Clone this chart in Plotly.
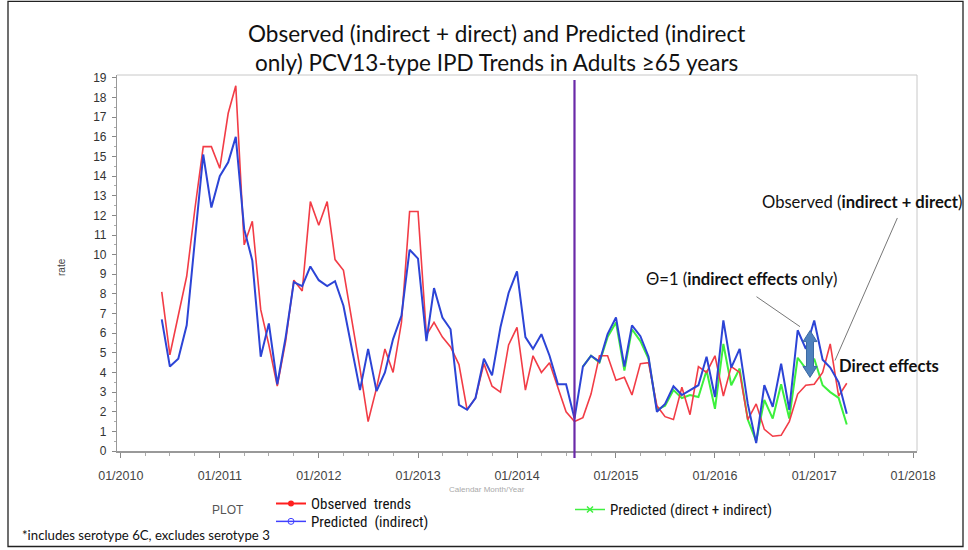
import pandas as pd
import plotly.graph_objects as go

# ---------------- data ----------------
months = pd.date_range("2010-06-01", periods=84, freq="MS")  # Jun 2010 .. May 2017

observed = [8.1, 4.9, 6.9, 8.9, 12.3, 15.5, 15.5, 14.4, 17.2, 18.6,
            10.5, 11.7, 7.2, 5.4, 3.3, 5.6, 8.7, 8.15, 12.7, 11.5,
            12.7, 9.75, 9.2, 6.8, 4.2, 1.5, 3.2, 5.2, 4.0, 6.55,
            12.2, 12.2, 5.9, 6.55, 5.8, 5.3, 4.4, 2.1, 2.7, 4.45,
            3.3, 3.0, 5.4, 6.3, 3.1, 4.85, 4.0, 4.5, 3.2, 2.0,
            1.5, 1.7, 2.9, 4.85, 4.85, 3.6, 3.75, 2.85, 4.45, 4.5,
            2.3, 1.75, 1.6, 3.25, 1.85, 4.3, 4.0, 4.85, 2.8, 4.3,
            4.0, 1.6, 2.4, 1.1, 0.75, 0.8, 1.5, 2.9, 3.35, 3.4,
            4.0, 5.45, 2.8, 3.45]

pred_indirect = [6.7, 4.3, 4.7, 6.4, 10.7, 15.1, 12.4, 14.0, 14.7, 16.0,
                 11.3, 9.7, 4.8, 6.5, 3.4, 5.8, 8.6, 8.4, 9.4, 8.7,
                 8.4, 8.65, 7.4, 5.2, 3.1, 5.2, 3.05, 4.0, 5.7, 6.9,
                 10.25, 9.8, 5.6, 8.3, 6.8, 6.2, 2.35, 2.1, 2.7, 4.7,
                 3.85, 6.3, 8.05, 9.15, 5.8, 5.2, 5.95, 4.85, 3.4, 3.4,
                 1.65, 4.3, 4.85, 4.55, 5.95, 6.8, 4.3, 6.4, 5.85, 4.8,
                 2.0, 2.4, 3.3, 2.85, 3.1, 3.35, 4.8, 2.75, 6.65, 4.25,
                 5.2, 2.4, 0.4, 3.35, 2.25, 4.45, 2.1, 6.15, 5.2, 6.65,
                 4.65, 4.25, 3.5, 1.9]

green_months = pd.date_range("2014-09-01", periods=33, freq="MS")  # Sep 2014 .. May 2017
pred_direct_indirect = [4.3, 4.85, 4.5, 5.8, 6.55, 4.1, 6.2, 5.6, 4.7, 2.1,
                        2.3, 3.1, 2.7, 2.85, 2.75, 4.1, 2.15, 5.45, 3.35, 4.2,
                        1.6, 0.5, 2.6, 1.65, 3.4, 1.65, 4.75, 4.2, 4.7, 3.35,
                        3.0, 2.7, 1.35]

vaccine_date = "2014-08-01"
y_ticks = list(range(0, 20))

# ---------------- figure ----------------
W, H = 968, 550
L, R, T, B = 117, 51, 75, 97
PW, PH = W - L - R, H - T - B


def px(x):
    return (x - L) / PW


def py(y):
    return (H - B - y) / PH


RED = "#f23c46"
BLUE = "#2c44d6"
GREEN = "#3df03d"

fig = go.Figure()
fig.add_trace(go.Scatter(x=green_months, y=pred_direct_indirect, mode="lines",
                         line=dict(color=GREEN, width=2), showlegend=False))
fig.add_trace(go.Scatter(x=months, y=observed, mode="lines",
                         line=dict(color=RED, width=1.6), showlegend=False))
fig.add_trace(go.Scatter(x=months, y=pred_indirect, mode="lines",
                         line=dict(color=BLUE, width=2), showlegend=False))

# legend-only traces
fig.add_trace(go.Scatter(x=[None], y=[None], mode="lines+markers", name="Observed\u00a0\u00a0trends",
                         line=dict(color="#ff2020", width=2),
                         marker=dict(color="#ff2020", size=6, symbol="circle"), legend="legend"))
fig.add_trace(go.Scatter(x=[None], y=[None], mode="lines+markers", name="Predicted\u00a0\u00a0(indirect)",
                         line=dict(color="#4040ff", width=1.5),
                         marker=dict(color="#4040ff", size=6, symbol="circle-open"), legend="legend2"))
fig.add_trace(go.Scatter(x=[None], y=[None], mode="lines+markers", name="Predicted (direct + indirect)",
                         line=dict(color="#40f040", width=1.5),
                         marker=dict(color="#40f040", size=6, symbol="x-thin-open", line=dict(width=1.5, color="#40f040")),
                         legend="legend3"))

leg_font = dict(family="Liberation Sans Narrow, Roboto Condensed, Liberation Sans, Arial", size=15, color="#111")
fig.update_layout(
    legend=dict(x=px(271), y=py(506), xanchor="left", yanchor="middle", font=leg_font,
                bgcolor="rgba(0,0,0,0)", borderwidth=0),
    legend2=dict(x=px(271), y=py(524), xanchor="left", yanchor="middle", font=leg_font,
                 bgcolor="rgba(0,0,0,0)", borderwidth=0),
    legend3=dict(x=px(570), y=py(512), xanchor="left", yanchor="middle", font=leg_font,
                 bgcolor="rgba(0,0,0,0)", borderwidth=0),
)

fig.update_layout(
    width=W, height=H,
    margin=dict(l=L, r=R, t=T, b=B),
    paper_bgcolor="white", plot_bgcolor="white",
    xaxis=dict(type="date", range=["2009-12-18", "2018-01-15"],
               dtick="M12", tick0="2010-01-01", tickformat="%m/%Y",
               ticks="outside", ticklen=5, tickcolor="#888", ticklabelstandoff=7,
               minor=dict(dtick="M3", ticks="outside", ticklen=3, tickcolor="#aaa"),
               showline=True, linecolor="#999", linewidth=1.5, mirror=False,
               showgrid=False, zeroline=False,
               tickfont=dict(family="Liberation Sans, Arial", size=12.5, color="#444")),
    yaxis=dict(range=[0, 19.15], tickvals=y_ticks,
               ticks="outside", ticklen=4, tickcolor="#888", ticklabelstandoff=3,
               minor=dict(dtick=0.5, ticks="outside", ticklen=2, tickcolor="#aaa"),
               showline=True, linecolor="#999", linewidth=1.2, mirror=False,
               showgrid=False, zeroline=False,
               tickfont=dict(family="Liberation Sans, Arial", size=12, color="#333")),
)

shapes = []
# light frame around the plot area (top and right)
shapes.append(dict(type="line", xref="paper", yref="paper", x0=0, x1=1, y0=1, y1=1,
                   line=dict(color="#c8c8c8", width=1)))
shapes.append(dict(type="line", xref="paper", yref="paper", x0=1, x1=1, y0=0, y1=1,
                   line=dict(color="#c8c8c8", width=1)))
# vaccine recommendation line
shapes.append(dict(type="line", xref="x", yref="paper", x0=vaccine_date, x1=vaccine_date,
                   y0=py(460), y1=py(80), line=dict(color="#6a2aa8", width=2.2)))
# outer figure frame
shapes.append(dict(type="rect", xref="paper", yref="paper", x0=px(8), x1=px(963),
                   y0=py(549), y1=py(1), line=dict(color="#222", width=1.3)))
# double-headed block arrow (direct effects)
cx = 810
pts = [(cx, 332), (cx + 7, 343), (cx + 3.5, 343), (cx + 3.5, 368), (cx + 7, 368), (cx, 379),
       (cx - 7, 368), (cx - 3.5, 368), (cx - 3.5, 343), (cx - 7, 343)]
path = "M " + " L ".join(f"{px(a):.5f},{py(b):.5f}" for a, b in pts) + " Z"
shapes.append(dict(type="path", xref="paper", yref="paper", path=path,
                   fillcolor="#4f81bd", line=dict(color="#3b6aa3", width=1)))
fig.update_layout(shapes=shapes)

TF = "Lato, Open Sans, sans-serif"
C = dict(xref="paper", yref="paper", xanchor="center", yanchor="middle", showarrow=False)
ann = []
ann.append(dict(text="Observed (indirect + direct) and Predicted (indirect", x=px(496), y=py(33),
                font=dict(family=TF, size=22.5, color="#111"), **C))
ann.append(dict(text="only) PCV13-type IPD Trends in Adults \u226565 years", x=px(496), y=py(62),
                font=dict(family=TF, size=22.5, color="#111"), **C))
ann.append(dict(text="rate", x=px(62), y=py(268), textangle=-90,
                font=dict(family="Liberation Sans, Arial", size=10, color="#444"), **C))
ann.append(dict(text="Calendar Month/Year", x=px(487), y=py(492),
                font=dict(family="Liberation Sans Narrow, Liberation Sans", size=8, color="#aaa"), **C))
ann.append(dict(text="PLOT", x=px(228), y=py(512),
                font=dict(family="Liberation Sans, Arial", size=12, color="#555"), **C))
ann.append(dict(text="*includes serotype 6C, excludes serotype 3", x=px(146), y=py(537),
                font=dict(family=TF, size=13.2, color="#111"), **C))
# callouts
AF = dict(family=TF, size=16.6, color="#111")
ann.append(dict(text="Observed (<b>indirect + direct</b>)", x=px(862), y=py(203), font=AF, **C))
ann.append(dict(text="\u0398=1 (<b>indirect effects</b> only)", x=px(741), y=py(280), font=AF, **C))
ann.append(dict(text="<b>Direct effects</b>", x=px(889), y=py(368), font=AF, **C))
# leader lines
ann.append(dict(text="", x=px(835), y=py(362), xref="paper", yref="paper", showarrow=True,
                ax=63, ay=-144, arrowhead=0, arrowwidth=1, arrowcolor="#777", standoff=0, startstandoff=0))
ann.append(dict(text="", x=px(800), y=py(328), xref="paper", yref="paper", showarrow=True,
                ax=-45, ay=-31, arrowhead=0, arrowwidth=1, arrowcolor="#777", standoff=0, startstandoff=0))
fig.update_layout(annotations=ann)

fig.write_html("out.html", config={"displayModeBar": False},
               post_script="document.body.style.margin='0';")
